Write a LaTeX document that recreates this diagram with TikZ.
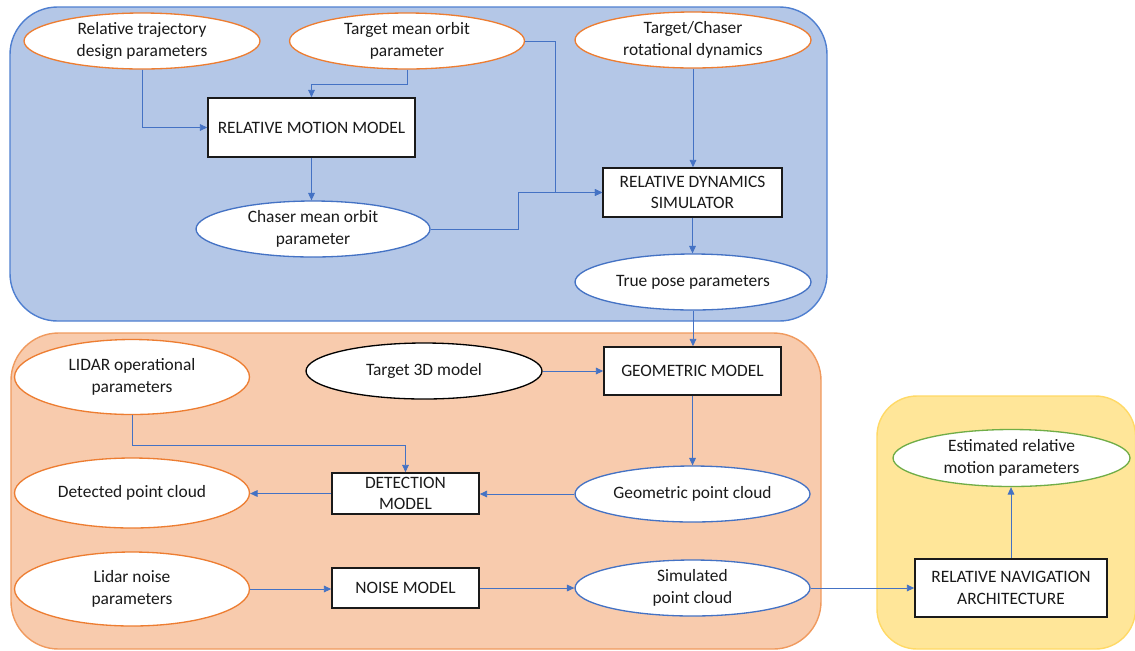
\documentclass[tikz,border=0pt]{standalone}
\usepackage{fontspec}
\setmainfont{Carlito}
\usetikzlibrary{shapes.geometric,arrows.meta}
\definecolor{pblue}{HTML}{B4C7E7}
\definecolor{pbluedraw}{HTML}{4F7FD0}
\definecolor{porange}{HTML}{F8CBAD}
\definecolor{porangedraw}{HTML}{F09A5E}
\definecolor{pyellow}{HTML}{FFE699}
\definecolor{pyellowdraw}{HTML}{FFD966}
\definecolor{eorange}{HTML}{ED7D31}
\definecolor{eblue}{HTML}{4472C4}
\definecolor{egreen}{HTML}{70AD47}
\definecolor{lblue}{HTML}{4472C4}
\definecolor{txt}{HTML}{1A1A1A}
\begin{document}
\begin{tikzpicture}[x=0.02cm,y=-0.02cm,
  ell/.style={ellipse, fill=white, line width=0.75pt, inner sep=0pt, align=center,
    font=\fontsize{9.9}{12.3}\selectfont, text=txt, minimum width=4.72cm, minimum height=1.12cm},
  oell/.style={ell, draw=eorange},
  bell/.style={ell, draw=eblue},
  kell/.style={ell, draw=black},
  gell/.style={ell, draw=egreen},
  blockbox/.style={rectangle, draw=txt, line width=0.9pt, fill=white, inner sep=0pt, align=center,
    font=\fontsize{9.9}{12.3}\selectfont, text=txt},
  conn/.style={draw=lblue, line width=0.5pt, -{Triangle[length=4.2pt,width=3.8pt]}}]
\useasboundingbox (0,0) rectangle (1135,650);
% panels
\draw[fill=pblue, draw=pbluedraw, line width=0.8pt, rounded corners=0.95cm] (10,7) rectangle (827,321);
\draw[fill=porange, draw=porangedraw, line width=0.8pt, rounded corners=0.95cm] (11,333) rectangle (821,649);
\draw[fill=pyellow, draw=pyellowdraw, line width=0.8pt, rounded corners=0.8cm] (877,396) rectangle (1135.5,649);

% top panel nodes
\node[oell] (rtd) at (142,41) {Relative trajectory\\design parameters};
\node[oell, minimum width=4.70cm] (tmo) at (407,41) {Target mean orbit\\parameter};
\node[oell] (tcr) at (693,40) {Target/Chaser\\rotational dynamics};
\node[blockbox, minimum width=4.14cm, minimum height=1.18cm] (rmm) at (311.5,127.5) {RELATIVE MOTION MODEL};
\node[bell, minimum width=4.68cm] (chaser) at (313,229) {Chaser mean orbit\\parameter};
\node[blockbox, minimum width=3.58cm, minimum height=0.98cm] (rds) at (692.5,192.5) {RELATIVE DYNAMICS\\SIMULATOR};
\node[bell] (tpp) at (693,282) {True pose parameters};

% middle panel nodes
\node[oell, minimum width=4.70cm, minimum height=1.50cm] (lidarop) at (132,377) {LIDAR operational\\parameters};
\node[kell] (t3d) at (424,371) {Target 3D model};
\node[blockbox, minimum width=3.54cm, minimum height=0.96cm] (gm) at (692.5,371) {GEOMETRIC MODEL};
\node[oell, minimum width=4.70cm, minimum height=1.40cm] (detected) at (132,493) {Detected point cloud};
\node[blockbox, minimum width=2.94cm, minimum height=0.82cm] (dm) at (405.5,493.5) {DETECTION\\MODEL};
\node[bell, minimum width=4.70cm] (gpc) at (692.5,494) {Geometric point cloud};
\node[oell, minimum width=4.70cm, minimum height=1.48cm] (noise) at (132,589) {Lidar noise\\parameters};
\node[blockbox, minimum width=2.94cm, minimum height=0.80cm] (nm) at (405.5,588) {NOISE MODEL};
\node[bell, minimum width=4.70cm] (spc) at (692.5,588) {Simulated\\point cloud};

% right panel nodes
\node[gell, minimum width=4.74cm, minimum height=1.14cm] (est) at (1011.5,458) {Estimated relative\\motion parameters};
\node[blockbox, minimum width=3.84cm, minimum height=1.16cm] (rna) at (1011,588) {RELATIVE NAVIGATION\\ARCHITECTURE};

% connectors top
\draw[conn] (rtd.south) |- (rmm.west);
\draw[conn] (tmo.south) -- ++(0,15) -| (rmm.north);
\draw[conn] (tmo.east) -- ++(30,0) |- (rds.west);
\draw[conn] (chaser.east) -- ++(88,0) |- (rds.west);
\draw[conn] (tcr.south) -- (tcr.south |- rds.north);
\draw[conn] (rmm.south) -- (rmm.south |- chaser.north);
\draw[conn] (rds.south) -- (rds.south |- tpp.north);
\draw[conn] (tpp.south) -- (tpp.south |- gm.north);

% connectors middle
\draw[conn] (t3d.east) -- (t3d.east -| gm.west);
\draw[conn] (gm.south) -- (gm.south |- gpc.north);
\draw[conn] (gpc.west) -- (gpc.west -| dm.east);
\draw[conn] (dm.west) -- (dm.west -| detected.east);
\draw[conn] (lidarop.south) -- ++(0,30) -| (dm.north);
\draw[conn] (noise.east) -- (noise.east -| nm.west);
\draw[conn] (nm.east) -- (nm.east -| spc.west);
\draw[conn] (spc.east) -- (spc.east -| rna.west);
\draw[conn] (rna.north) -- (rna.north |- est.south);
\end{tikzpicture}
\end{document}
